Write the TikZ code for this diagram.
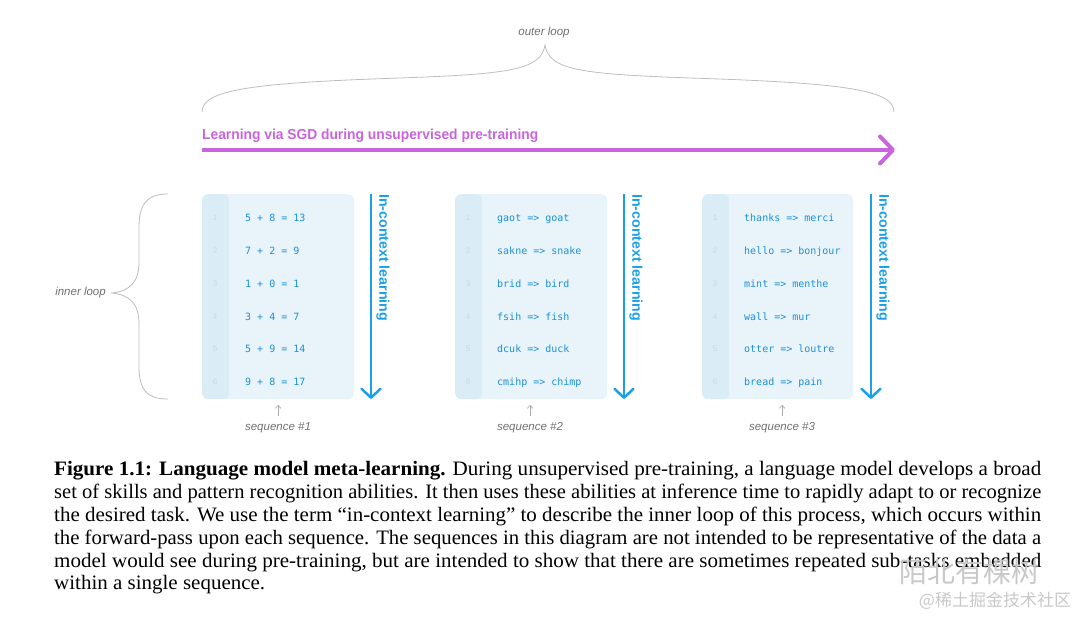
\documentclass[tikz,border=0pt]{standalone}
\usepackage{fontspec}
\usepackage{graphicx}
\setmainfont{Liberation Serif}
\setsansfont{Liberation Sans}
\setmonofont{DejaVu Sans Mono}
\newfontfamily\cjkfont{Noto Sans CJK SC}
\usetikzlibrary{arrows.meta}
\definecolor{purp}{HTML}{C964DC}
\definecolor{seqblue}{HTML}{1E8FD5}
\definecolor{arrblue}{HTML}{1AA0E6}
\definecolor{panelbg}{HTML}{E8F4FA}
\definecolor{numbg}{HTML}{DAEDF6}
\definecolor{numfg}{HTML}{C4DAE6}
\definecolor{labgray}{HTML}{707070}
\definecolor{bracegray}{HTML}{BDBDBD}
\definecolor{wmgray}{HTML}{C8C8C8}
\begin{document}
\begin{tikzpicture}[x=1pt,y=-1pt,
  panel/.style={fill=panelbg, rounded corners=6pt, minimum width=152pt, minimum height=205pt,
     anchor=north west, inner sep=0pt,
     path picture={\fill[numbg] (path picture bounding box.north west) rectangle ([xshift=27pt]path picture bounding box.south west);}},
  lbl/.style={font=\sffamily\itshape\fontsize{11.5}{13}\selectfont, text=labgray, inner sep=0pt},
  codetxt/.style={font=\ttfamily\fontsize{10}{12}\selectfont, text=seqblue, anchor=base west, inner sep=0pt},
  numtxt/.style={font=\sffamily\fontsize{8}{10}\selectfont, text=numfg, inner sep=0pt},
  icl/.style={font=\sffamily\bfseries\fontsize{14}{16}\selectfont, text=arrblue, rotate=-90, anchor=west, inner sep=0pt},
  bluearrow/.style={draw=arrblue, line width=2.5pt, -{Straight Barb[length=9pt,width=19pt,round]}},
  purparrow/.style={draw=purp, line width=4pt, -{Straight Barb[length=13pt,width=27pt,round]}},
  seqarrow/.style={draw=labgray!60, line width=0.6pt, -{Straight Barb[length=3pt,width=6pt]}},
  bracestyle/.style={draw=bracegray, line width=0.8pt},
  capline/.style={anchor=base west, inner sep=0pt, font=\fontsize{20.5}{23}\selectfont}
]
\useasboundingbox (0,0) rectangle (1080,617);

% outer loop
\node[lbl] (outer) at (544,33) {outer loop};
\coordinate (obL) at (202,112);
\coordinate (obT) at (545,45);
\coordinate (obR) at (894,112);
\draw[bracestyle] (obL) .. controls (202,90) and (250,83) .. (400,78)
   .. controls (510,74) and (541,70) .. (obT)
   .. controls (549,70) and (580,74) .. (690,78)
   .. controls (846,83) and (894,90) .. (obR);

% SGD arrow
\node[anchor=base west, inner sep=0pt, text=purp] (sgd) at (202,139.5)
  {\resizebox{336pt}{\height}{\sffamily\bfseries\fontsize{14.5}{16}\selectfont Learning via SGD during unsupervised pre-training}};
\coordinate (sgdL) at (202,150);
\coordinate (sgdR) at (895,150);
\draw[purparrow] (sgdL) -- (sgdR);

% inner loop
\node[lbl, anchor=east] (inner) at (106,293) {inner loop};
\coordinate (ibT) at (168,194);
\coordinate (ibM) at (112,293);
\coordinate (ibB) at (168,399);
\draw[bracestyle] (ibT) .. controls (146,194) and (139,205) .. (139,228)
   -- (139,262) .. controls (139,282) and (130,291) .. (ibM)
   .. controls (130,295) and (139,304) .. (139,324)
   -- (139,366) .. controls (139,389) and (146,399) .. (ibB);

% panels
\node[panel] (p1) at (202,194) {};
\node[panel] (p2) at (455,194) {};
\node[panel, minimum width=151pt] (p3) at (702,194) {};

\foreach \i/\y in {1/218,2/250.8,3/283.6,4/316.4,5/349.2,6/382}{
  \node[numtxt] (n1\i) at (215,\y) {\i};
  \node[numtxt] (n2\i) at (468,\y) {\i};
  \node[numtxt] (n3\i) at (715,\y) {\i};
}

% sequence 1
\node[codetxt] (s11) at (245,221.7) {5 + 8 = 13};
\node[codetxt] (s12) at (245,254.5) {7 + 2 = 9};
\node[codetxt] (s13) at (245,287.3) {1 + 0 = 1};
\node[codetxt] (s14) at (245,320.1) {3 + 4 = 7};
\node[codetxt] (s15) at (245,352.9) {5 + 9 = 14};
\node[codetxt] (s16) at (245,385.7) {9 + 8 = 17};
% sequence 2
\node[codetxt] (s21) at (497,221.7) {gaot => goat};
\node[codetxt] (s22) at (497,254.5) {sakne => snake};
\node[codetxt] (s23) at (497,287.3) {brid => bird};
\node[codetxt] (s24) at (497,320.1) {fsih => fish};
\node[codetxt] (s25) at (497,352.9) {dcuk => duck};
\node[codetxt] (s26) at (497,385.7) {cmihp => chimp};
% sequence 3
\node[codetxt] (s31) at (744,221.7) {thanks => merci};
\node[codetxt] (s32) at (744,254.5) {hello => bonjour};
\node[codetxt] (s33) at (744,287.3) {mint => menthe};
\node[codetxt] (s34) at (744,320.1) {wall => mur};
\node[codetxt] (s35) at (744,352.9) {otter => loutre};
\node[codetxt] (s36) at (744,385.7) {bread => pain};

% in-context arrows
\foreach \k/\x in {1/371,2/624,3/871}{
  \coordinate (a\k t) at (\x,194);
  \coordinate (a\k b) at (\x,399);
  \draw[bluearrow] (a\k t) -- (a\k b);
  \node[icl] (icl\k) at (\x+12,194) {\resizebox{127pt}{\height}{In-context learning}};
}

% sequence labels
\foreach \k/\x in {1/278,2/530,3/782}{
  \node[lbl] (seq\k) at (\x,428) {sequence \#\k};
  \coordinate (up\k) at (\x,405);
  \draw[seqarrow] (\x,416) -- (up\k);
}

% caption
\node[capline] (c1) at (54,476) {\resizebox{987pt}{\height}{\textbf{Figure 1.1: Language model meta-learning.} During unsupervised pre-training, a language model develops a broad}};
\node[capline] (c2) at (54,498.8) {\resizebox{987pt}{\height}{set of skills and pattern recognition abilities. It then uses these abilities at inference time to rapidly adapt to or recognize}};
\node[capline] (c3) at (54,521.6) {\resizebox{987pt}{\height}{the desired task. We use the term “in-context learning” to describe the inner loop of this process, which occurs within}};
\node[capline] (c4) at (54,544.4) {\resizebox{987pt}{\height}{the forward-pass upon each sequence. The sequences in this diagram are not intended to be representative of the data a}};
\node[capline] (c5) at (54,567.2) {\resizebox{987pt}{\height}{model would see during pre-training, but are intended to show that there are sometimes repeated sub-tasks embedded}};
\node[capline] (c6) at (54,590) {\resizebox{211pt}{\height}{within a single sequence.}};

% watermark
\node[inner sep=0pt, text=wmgray, font=\cjkfont\fontsize{28}{30}\selectfont] (wm1) at (969,572) {陌北有棵树};
\node[inner sep=0pt, text=wmgray, font=\cjkfont\fontsize{17}{19}\selectfont] (wm2) at (995,601) {@稀土掘金技术社区};
\end{tikzpicture}
\end{document}
